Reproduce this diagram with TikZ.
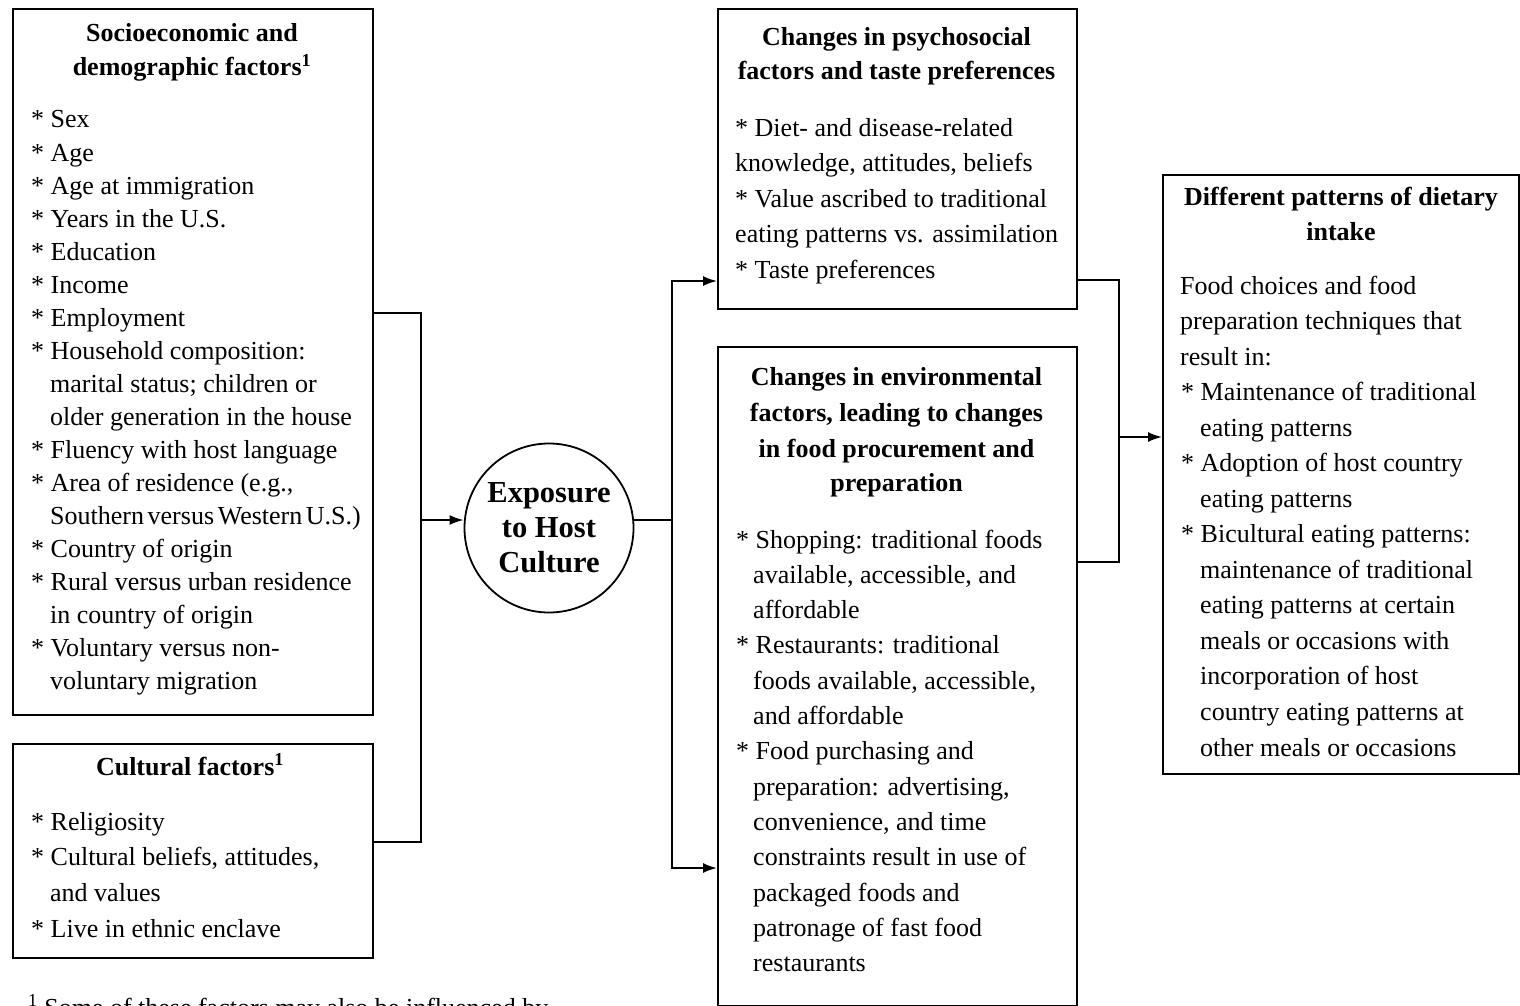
\documentclass[tikz,border=0pt]{standalone}
\usepackage{fontspec}
\setmainfont{Liberation Serif}
\usetikzlibrary{arrows.meta}
\newcommand\bodyfnt{\fontsize{26}{33}\selectfont}
\newcommand\boldfnt{\fontsize{26}{33}\selectfont\bfseries}
\newcommand\expofnt{\fontsize{30.5}{35}\selectfont\bfseries}
\newcommand\tightws{\spaceskip=0.14em\relax}
\begin{document}
\begin{tikzpicture}[x=1pt,y=-1pt,
  box/.style={draw, rectangle, line width=1.8pt, inner sep=0pt, anchor=north west},
  conn/.style={line width=1.8pt},
  arr/.style={conn, -{Latex[length=14pt,width=10pt]}},
  txt/.style={anchor=base west, inner sep=0pt, font=\bodyfnt},
  ttl/.style={anchor=base, inner sep=0pt, font=\boldfnt}]
\useasboundingbox (0,0) rectangle (1520,1006);
\fill[white] (0,0) rectangle (1520,1006);

% boxes
\node[box, minimum width=360pt, minimum height=706pt] (socio) at (12,8) {};
\node[box, minimum width=360pt, minimum height=214pt] (cult) at (12,743) {};
\node[box, minimum width=359pt, minimum height=300pt] (psy) at (717,8) {};
\node[box, minimum width=359pt, minimum height=659pt] (env) at (717,346) {};
\node[box, minimum width=356pt, minimum height=599pt] (diet) at (1162,174) {};
\node[draw, circle, line width=1.8pt, inner sep=0pt, minimum size=169pt] (expo) at (549,528) {};
\node[align=center, inner sep=0pt, font=\expofnt] (expot) at (expo.center) {Exposure\\to Host\\Culture};

% titles
\node[ttl] (sdt1) at (192,42) {Socioeconomic and};
\node[ttl] (sdt2) at (192,76) {demographic factors\textsuperscript{1}};
\node[ttl] (cft1) at (190,775) {Cultural factors\textsuperscript{1}};
\node[ttl] (pst1) at (896.5,46) {Changes in psychosocial};
\node[ttl] (pst2) at (896.5,80) {factors and taste preferences};
\node[ttl] (ent1) at (896.5,385) {Changes in environmental};
\node[ttl] (ent2) at (896.5,421) {factors, leading to changes};
\node[ttl] (ent3) at (896.5,457) {in food procurement and};
\node[ttl] (ent4) at (896.5,491) {preparation};
\node[ttl] (dpt1) at (1341,205) {Different patterns of dietary};
\node[ttl] (dpt2) at (1341,240) {intake};

% box texts
\foreach \x/\t [count=\i] in {
  31/* Sex, 31/* Age, 31/* Age at immigration, 31/* Years in the U.S.,
  31/* Education, 31/* Income, 31/* Employment, 31/* Household composition:,
  50/marital status; children or, 50/older generation in the house,
  31/* Fluency with host language, 31/{* Area of residence (e.g.,},
  50/{\tightws Southern versus Western U.S.)}, 31/* Country of origin,
  31/* Rural versus urban residence, 50/in country of origin,
  31/* Voluntary versus non-, 50/voluntary migration}
  \node[txt] (sd\i) at (\x,{128+33*(\i-1)}) {\t};

\foreach \x/\t [count=\i] in {
  31/* Religiosity, 31/{* Cultural beliefs, attitudes,}, 50/and values,
  31/* Live in ethnic enclave}
  \node[txt] (cf\i) at (\x,{830+35.7*(\i-1)}) {\t};

\foreach \x/\t [count=\i] in {
  735/* Diet- and disease-related, 735/{knowledge, attitudes, beliefs},
  735/* Value ascribed to traditional, 735/eating patterns vs. assimilation,
  735/* Taste preferences}
  \node[txt] (ps\i) at (\x,{136+35.5*(\i-1)}) {\t};

\foreach \x/\t [count=\i] in {
  736/* Shopping: traditional foods, 753/{available, accessible, and},
  753/affordable, 736/* Restaurants: traditional,
  753/{foods available, accessible,}, 753/and affordable,
  736/* Food purchasing and, 753/{preparation: advertising,},
  753/{convenience, and time}, 753/constraints result in use of,
  753/packaged foods and, 753/patronage of fast food, 753/restaurants}
  \node[txt] (en\i) at (\x,{548+35.33*(\i-1)}) {\t};

\foreach \x/\t [count=\i] in {
  1180/Food choices and food, 1180/preparation techniques that,
  1180/result in:, 1181/* Maintenance of traditional, 1200/eating patterns,
  1181/* Adoption of host country, 1200/eating patterns,
  1181/* Bicultural eating patterns:, 1200/maintenance of traditional,
  1200/eating patterns at certain, 1200/meals or occasions with,
  1200/incorporation of host, 1200/country eating patterns at,
  1200/other meals or occasions}
  \node[txt] (dp\i) at (\x,{294+35.54*(\i-1)}) {\t};

% footnote (cut by the page edge, as in the reference)
\node[txt] (fn) at (28,1016) {\textsuperscript{1} Some of these factors may also be influenced by};

% connectors
\coordinate (yA) at (0,313);
\coordinate (yB) at (0,842);
\coordinate (jL) at (421,520);
\coordinate (jR) at (672,520);
\coordinate (yC) at (0,281);
\coordinate (yD) at (0,868);
\coordinate (yE) at (0,280);
\coordinate (yF) at (0,562);
\coordinate (jD) at (1119,437);

\draw[conn] (socio.east |- yA) -| (jL) |- (cult.east |- yB);
\draw[arr] (jL) -- (expo.west |- jL);
\draw[conn] (expo.east |- jR) -- (jR);
\draw[arr] (jR) |- (psy.west |- yC);
\draw[arr] (jR) |- (env.west |- yD);
\draw[conn] (psy.east |- yE) -| (jD) |- (env.east |- yF);
\draw[arr] (jD) -- (diet.west |- jD);
\end{tikzpicture}
\end{document}
